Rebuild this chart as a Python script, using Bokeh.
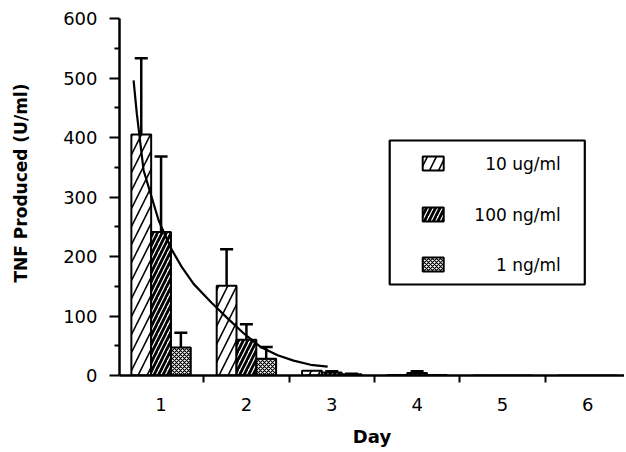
from bokeh.plotting import figure
from bokeh.models import (ColumnDataSource, Range1d, FixedTicker, Whisker, TeeHead, Label, Title)
from bokeh.transform import dodge
from bokeh.embed import file_html
from bokeh.resources import INLINE

# ---- data ----
days = [1, 2, 3, 4, 5, 6]
series_names = ["10 ug/ml", "100 ng/ml", "1 ng/ml"]
tnf_10ug = [405, 151, 8, 1, 0, 0]
tnf_100ng = [241, 60, 5, 4, 0, 0]
tnf_1ng = [47, 28, 2, 1, 0, 0]
err_10ug = [128, 61, 0, 0, 0, 0]
err_100ng = [127, 26, 2, 3, 0, 0]
err_1ng = [25, 20, 1, 0, 0, 0]
curve_day = [0.678, 0.716, 0.795, 0.971, 1.111, 1.240, 1.381, 1.580, 1.780,
             1.967, 2.166, 2.366, 2.553, 2.753, 2.952]
curve_val = [496, 440, 345, 261, 215, 183, 154, 124, 96, 71, 48, 34, 25, 18, 15]
y_ticks = [0, 100, 200, 300, 400, 500, 600]
y_minor = [50, 150, 250, 350, 450, 550]
x_minor = [0.5, 1.5, 2.5, 3.5, 4.5, 5.5, 6.5]
y_title = "TNF Produced (U/ml)"
x_title = "Day"

FONT = "DejaVu Sans"
BW = 0.232
SHIFT = 22  # canvas pulled left so the y title can sit far from the axis

styles = [
    dict(fill_color="white", hatch_pattern="/", hatch_color="black",
         hatch_scale=18, hatch_weight=1.6),
    dict(fill_color="white", hatch_pattern="/", hatch_color="black",
         hatch_scale=9, hatch_weight=2.8),
    dict(fill_color="white", hatch_pattern="x", hatch_color="black",
         hatch_scale=4, hatch_weight=1.2),
]

p = figure(width=624 + SHIFT, height=450, output_backend="svg", toolbar_location=None,
           x_range=Range1d(0.513, 6.43), y_range=Range1d(0, 600),
           min_border_left=119 + SHIFT, min_border_right=0, min_border_top=18,
           min_border_bottom=75, margin=(0, 0, 0, -SHIFT))
p.outline_line_color = None
p.xgrid.grid_line_color = None
p.ygrid.grid_line_color = None
p.background_fill_color = "white"
p.border_fill_color = "white"

src = ColumnDataSource(dict(day=days, a=tnf_10ug, b=tnf_100ng, c=tnf_1ng))
offsets = [-BW, 0.0, BW]
cols = ["a", "b", "c"]
errs = [err_10ug, err_100ng, err_1ng]
vals = [tnf_10ug, tnf_100ng, tnf_1ng]

for off, col, st in zip(offsets, cols, styles):
    p.vbar(x=dodge("day", off, range=p.x_range), top=col, width=BW, source=src,
           line_color="black", line_width=2, **st)

for off, v, e in zip(offsets, vals, errs):
    wx = [d + off for d, ee in zip(days, e) if ee > 0]
    lo = [vv for vv, ee in zip(v, e) if ee > 0]
    hi = [vv + ee for vv, ee in zip(v, e) if ee > 0]
    ws = ColumnDataSource(dict(x=wx, lo=lo, hi=hi))
    p.add_layout(Whisker(source=ws, base="x", lower="lo", upper="hi",
                         line_color="black", line_width=2.5,
                         upper_head=TeeHead(size=13, line_width=2.5, line_color="black"),
                         lower_head=None))

p.line(curve_day, curve_val, line_color="black", line_width=2.2)

# legend (manual, right-aligned labels)
def px2day(x):
    return (x - 160.5) / 85.3 + 1

def py2val(y):
    return (375 - y) / 0.595

p.quad(left=[px2day(389)], right=[px2day(584)], top=[py2val(140)], bottom=[py2val(284)],
       fill_color="white", line_color="black", line_width=2.2)
row_y = [163, 214, 264]
for name, ry, st in zip(series_names, row_y, styles):
    p.quad(left=[px2day(422)], right=[px2day(443)], top=[py2val(ry - 7)],
           bottom=[py2val(ry + 7)], line_color="black", line_width=2, **st)
    p.add_layout(Label(x=px2day(560), y=py2val(ry), text=name, text_align="right",
                       text_baseline="middle", text_font=FONT,
                       text_font_size="17px", text_color="black"))

# axes
xa = p.xaxis[0]
xa.ticker = FixedTicker(ticks=days, minor_ticks=x_minor)
xa.major_tick_out = 0
xa.major_tick_in = 0
xa.minor_tick_out = 7
xa.minor_tick_in = 0
xa.minor_tick_line_width = 2
xa.axis_line_width = 2.5
xa.major_label_text_font = FONT
xa.major_label_text_font_size = "18px"
xa.major_label_text_color = "black"
xa.major_label_standoff = 15
xa.axis_label = x_title
xa.axis_label_text_font = FONT
xa.axis_label_text_font_style = "bold"
xa.axis_label_text_font_size = "18px"
xa.axis_label_text_color = "black"
xa.axis_label_standoff = 12

ya = p.yaxis[0]
ya.ticker = FixedTicker(ticks=y_ticks, minor_ticks=y_minor)
ya.major_tick_out = 10
ya.major_tick_in = 0
ya.minor_tick_out = 5
ya.minor_tick_in = 0
ya.major_tick_line_width = 2
ya.minor_tick_line_width = 2
ya.axis_line_width = 2.5
ya.major_label_text_font = FONT
ya.major_label_text_font_size = "18px"
ya.major_label_text_color = "black"
ya.major_label_standoff = 12

# y title in the left panel, starting above the frame bottom like the reference
yt = Title(text=y_title, align="left", offset=93, standoff=60,
           text_font=FONT, text_font_style="bold", text_font_size="17px",
           text_color="black")
p.add_layout(yt, "left")

open("out.html", "w").write(file_html(p, INLINE))
